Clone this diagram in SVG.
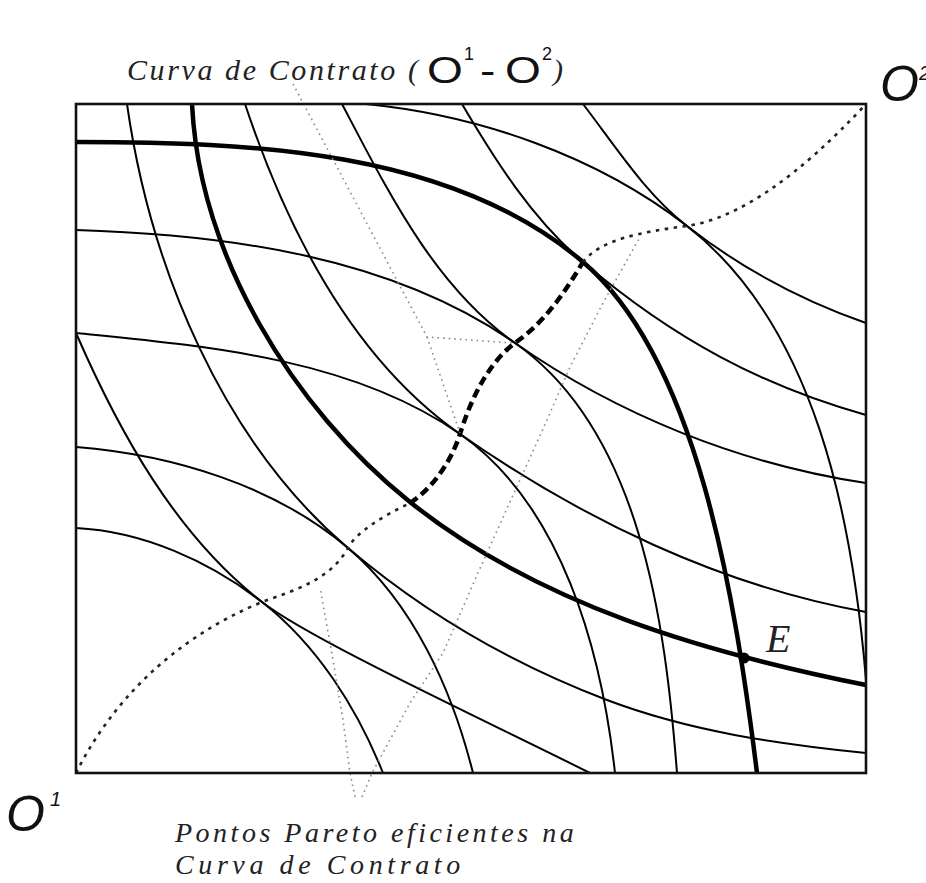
<svg xmlns="http://www.w3.org/2000/svg" width="926" height="883" viewBox="0 0 926 883">
<style>
.thin{fill:none;stroke:#000;stroke-width:2}
.thick{fill:none;stroke:#000;stroke-width:4.5}
.contract{fill:none;stroke:#222;stroke-width:2.6;stroke-dasharray:3.5 5.5}
.pareto{fill:none;stroke:#000;stroke-width:4.5;stroke-dasharray:9 5}
.leader{fill:none;stroke:#8a8a8a;stroke-width:1.6;stroke-dasharray:1.6 4}
.serif{font-family:"Liberation Serif","Times New Roman",serif;font-style:italic;fill:#222}
.sans{font-family:"Liberation Sans",Arial,sans-serif;fill:#111}
</style>
<rect width="926" height="883" fill="#fff"/>
<g id="consumer2-curves">
<path class="thick" d="M76,142 C250,142 450.4,149.3 583,262 C697.3,359.2 734.7,594.4 757,773"/>
<path class="thin" d="M366,104 C479.4,115.3 597.1,155.9 687,226 C815.5,326.2 852.5,517.5 866,680"/>
<path class="thin" d="M76,230 C227,234.5 391.3,256.5 515,343 C640.3,430.7 665.2,620.5 677,773"/>
<path class="thin" d="M76,333 C207.3,346.1 351.9,358.4 460,434 C561.6,505.1 601.4,649.7 615,773"/>
<path class="thin" d="M76,447 C172.4,454.7 274.3,485.3 348,548 C413.4,603.6 452.2,689.8 473,773"/>
<path class="thin" d="M76,528 C142.6,531.3 209.4,561 262,602 C317,644.9 357.1,708.2 383,773"/>
</g>
<g id="consumer1-curves">
<path class="thick" d="M192,104 C199.5,255 292,407.7 410,502 C538.1,604.5 705.1,652.8 866,685"/>
<path class="thin" d="M583,104 C615.6,146.3 644.9,193.2 687,226 C740.5,267.8 801.9,300.6 866,323"/>
<path class="thin" d="M462,104 C495.7,161.2 532.4,219 583,262 C674.4,339.8 763,386.1 866,415"/>
<path class="thin" d="M342,104 C387.9,191.1 434.4,286.6 515,343 C618.2,415.2 741.4,464.4 866,483"/>
<path class="thin" d="M245,104 C286.4,228.3 352.7,358.9 460,434 C581.2,518.8 720.4,585.8 866,612"/>
<path class="thin" d="M127,104 C150.3,267.4 222.3,441.1 348,548 C424.2,612.8 513.5,664.5 607,700 C689.3,731.2 778.4,744.2 866,753"/>
<path class="thin" d="M76,333 C119.5,433 176,535 262,602 C309.3,638.9 480,718 590,773"/>
</g>
<g id="contract-curve">
<path class="contract" d="M76,773 C110,705 170,640 262,602 C295,590 330,580 348,548 C356,532 385,515 410,503"/>
<path class="pareto" d="M410,503 C430,490 450,465 460,434 C468,408 485,365 515,343 C545,322 565,292 583,262"/>
<path class="contract" d="M583,262 C600,240 640,232 687,226 C740,218 800,175 866,104"/>
</g>
<g id="leaders">
<path class="leader" d="M293,84 L427,337 L513,343 M427,337 L460,433"/>
<path class="leader" d="M355,797 L350,773 L343,720 L333,660 L320,587"/>
<path class="leader" d="M362,797 L372,773 L410,703 L443,653 L477,575 L547,420 L570,367 L603,303 L640,237"/>
</g>
<rect id="box" x="76" y="104" width="790" height="669" fill="none" stroke="#111" stroke-width="2.6"/>
<circle id="E-point" cx="744" cy="658" r="5.5" fill="#000"/>
<g id="labels">
<text class="serif" font-size="30" x="127" y="80" letter-spacing="2.6">Curva de Contrato (</text>
<text class="sans" font-size="36" transform="translate(427,83) scale(1.28,1)">O</text>
<text class="sans" font-size="18" x="464" y="60">1</text>
<text class="sans" font-size="36" transform="translate(480,83) scale(1.28,1)">-</text>
<text class="sans" font-size="36" transform="translate(505,83) scale(1.28,1)">O</text>
<text class="sans" font-size="18" x="542" y="60">2</text>
<text class="serif" font-size="30" x="553" y="80">)</text>
<text class="sans" font-size="50" font-style="italic" x="6" y="831">O</text>
<text class="sans" font-size="20" font-style="italic" x="50" y="806">1</text>
<text class="sans" font-size="50" font-style="italic" x="880" y="101">O</text>
<text class="sans" font-size="20" font-style="italic" x="919" y="80">2</text>
<text class="serif" font-size="40" x="766" y="652">E</text>
<text class="serif" font-size="28" x="175" y="842" letter-spacing="3.5">Pontos Pareto eficientes na</text>
<text class="serif" font-size="28" x="175" y="874" letter-spacing="4.6">Curva de Contrato</text>
</g>
</svg>
